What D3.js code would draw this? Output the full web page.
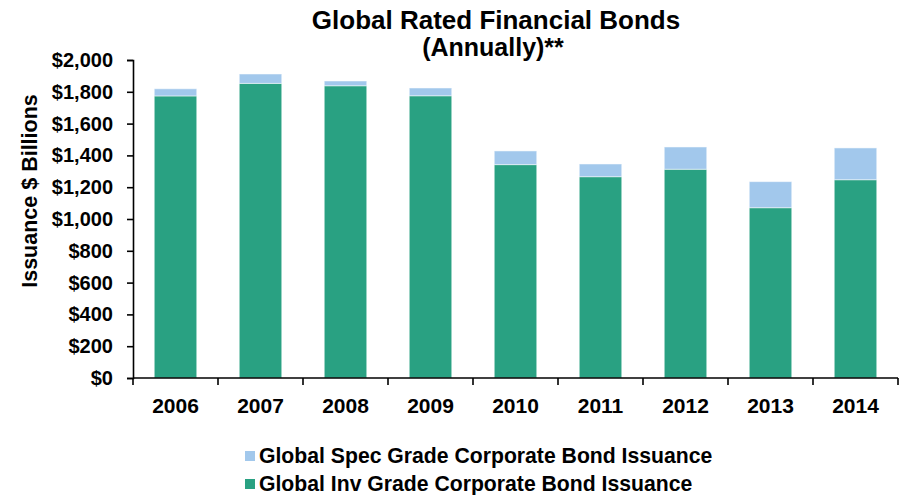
<!DOCTYPE html>
<html><head><meta charset="utf-8">
<script src="https://cdn.jsdelivr.net/npm/d3@7"></script>
<style>
body{margin:0;background:#fff;}
text{font-family:"Liberation Sans",Arial,sans-serif;font-weight:bold;fill:#000;}
</style></head>
<body><svg id="c" width="906" height="495"></svg>
<script>
const years = ["2006","2007","2008","2009","2010","2011","2012","2013","2014"];
const invGrade = [1774,1853,1838,1775,1342,1266,1313,1071,1247];
const specGrade = [45,59,30,49,86,80,140,164,200];
const yTicks = [0,200,400,600,800,1000,1200,1400,1600,1800,2000];
const seriesNames = ["Global Spec Grade Corporate Bond Issuance","Global Inv Grade Corporate Bond Issuance"];
const colors = {spec:"#a2c8ec", inv:"#29a182"};

const svg = d3.select("#c");
const x = d3.scaleBand().domain(years).range([133,898]).paddingInner(0.5).paddingOuter(0.25);
const y = d3.scaleLinear().domain([0,2000]).range([378,60]);

const rows = years.map((yr,i)=>({year:yr, inv:invGrade[i], spec:specGrade[i]}));
const stack = d3.stack().keys(["inv","spec"])(rows);

svg.append("g").selectAll("g").data(stack).join("g")
  .attr("fill", d=>colors[d.key])
  .selectAll("rect").data(d=>d).join("rect")
  .attr("x", d=>x(d.data.year))
  .attr("width", x.bandwidth())
  .attr("y", d=>y(d[1]))
  .attr("height", d=>y(d[0])-y(d[1]))
  .attr("stroke","#ffffff").attr("stroke-opacity",0.5).attr("stroke-width",1);

// Y axis
const yAxis = svg.append("g").attr("transform","translate(133,0)")
  .call(d3.axisLeft(y).tickValues(yTicks).tickSize(6).tickPadding(14)
    .tickFormat(d=>"$"+d3.format(",")(d)));
yAxis.select(".domain").attr("stroke","#000").attr("stroke-width",1.6);
yAxis.selectAll(".tick line").attr("stroke","#000").attr("stroke-width",1.6);
yAxis.selectAll(".tick text").style("font-size","20px").attr("font-family",null);

// X axis
const xAxis = svg.append("g").attr("transform","translate(0,378)")
  .call(d3.axisBottom(x).tickSize(0).tickPadding(20));
xAxis.select(".domain").attr("stroke","#000").attr("stroke-width",1.6).attr("d","M133,0H898");
xAxis.selectAll(".tick text").style("font-size","21px").attr("font-family",null);
const bounds = d3.range(years.length+1).map(i=>133+i*((898-133)/years.length));
xAxis.selectAll("line.sep").data(bounds).join("line").attr("class","sep")
  .attr("x1",d=>d).attr("x2",d=>d).attr("y1",0).attr("y2",7)
  .attr("stroke","#000").attr("stroke-width",1.6);

// Title
svg.append("text").attr("x",496).attr("y",29).attr("text-anchor","middle")
  .style("font-size","26px").text("Global Rated Financial Bonds");
svg.append("text").attr("x",493).attr("y",56).attr("text-anchor","middle")
  .style("font-size","25px").text("(Annually)**");

// Y title
svg.append("text").attr("transform","translate(37,191) rotate(-90)")
  .attr("text-anchor","middle").style("font-size","21.5px").text("Issuance $ Billions");

// Legend
const leg = svg.append("g");
const legItems = [{name:seriesNames[0],c:colors.spec},{name:seriesNames[1],c:colors.inv}];
leg.selectAll("rect").data(legItems).join("rect")
  .attr("x",245).attr("y",(d,i)=>451+i*28).attr("width",10).attr("height",10)
  .attr("fill",d=>d.c);
leg.selectAll("text").data(legItems).join("text")
  .attr("x",259).attr("y",(d,i)=>463+i*28).style("font-size","21.2px").text(d=>d.name);
</script></body></html>
